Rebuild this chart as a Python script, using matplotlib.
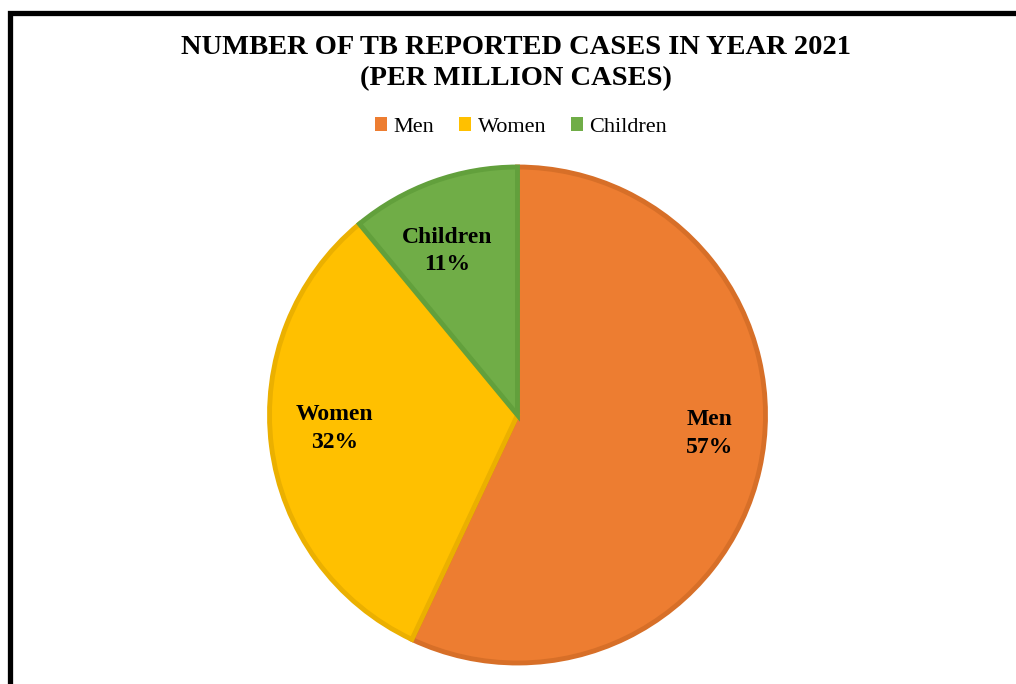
import matplotlib.pyplot as plt
from matplotlib.patches import Rectangle

categories = ['Men', 'Women', 'Children']
shares = [57, 32, 11]
colors = ['#ED7D31', '#FFC000', '#70AD47']
edge_colors = ['#D76F28', '#EBB000', '#62A03C']

# data label placement (Excel "best fit"), in pie radius units
label_xy = [(0.776, -0.075), (-0.736, -0.055), (-0.284, 0.662)]

plt.rcParams['font.family'] = ['Liberation Serif', 'DejaVu Serif']

fig = plt.figure(figsize=(10.16, 6.84), dpi=100)
W, H = 1016, 684

# outer frame (only top and left edges visible in the crop)
fig.patches.append(Rectangle((10 / W, -0.2), 1.5, (H - 13) / H + 0.2,
                             transform=fig.transFigure, fill=False,
                             edgecolor='black', linewidth=3.8))

fig.text(516 / W, 1 - 48 / H, 'NUMBER OF TB REPORTED CASES IN YEAR 2021',
         ha='center', va='center', fontsize=20.5, fontweight='bold')
fig.text(516 / W, 1 - 79 / H, '(PER MILLION CASES)',
         ha='center', va='center', fontsize=20.5, fontweight='bold')

cx, cy, r = 517.5, 415, 248
ax = fig.add_axes([(cx - r) / W, (H - cy - r) / H, 2 * r / W, 2 * r / H])
wedges, _ = ax.pie(shares, colors=colors, startangle=90, counterclock=False,
                   wedgeprops=dict(linewidth=3.5))
for w, ec in zip(wedges, edge_colors):
    w.set_edgecolor(ec)
    w.set_clip_on(False)
ax.set_xlim(-1, 1)
ax.set_ylim(-1, 1)

for (x, y), name, val in zip(label_xy, categories, shares):
    ax.text(x, y, f'{name}\n{val}%', ha='center', va='center',
            fontsize=17, fontweight='bold', linespacing=1.4)

handles = [Rectangle((0, 0), 1, 1, facecolor=c, edgecolor='none') for c in colors]
fig.legend(handles, categories, loc='center', bbox_to_anchor=(521 / W, 1 - 127 / H),
           ncol=3, frameon=False, fontsize=16, handlelength=0.55, handleheight=0.55,
           handletextpad=0.3, columnspacing=1.1)

fig.savefig('out.png', dpi=100)
